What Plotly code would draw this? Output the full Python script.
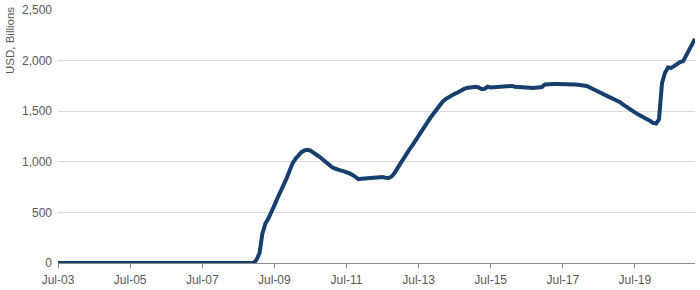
import plotly.graph_objects as go
import pandas as pd

# Monthly series, Jul-2003 .. Mar-2021 (USD billions)
start_month = "2003-07-01"
zeros_before_rise = [0] * 65  # Jul-03 .. Nov-08 flat at zero
values_from_dec08 = [
    0, 30, 100, 290, 390, 440, 500, 570, 640, 700,
    770, 835, 910, 985, 1030, 1065, 1095, 1112, 1118, 1110,
    1095, 1070, 1050, 1025, 990, 970, 950, 935, 922, 915,
    908, 900, 885, 870, 850, 828, 832, 835, 838, 842,
    848, 853, 853, 850, 843, 840, 855, 890, 940, 990,
    1040, 1090, 1125, 1165, 1215, 1255, 1300, 1350, 1395, 1440,
    1480, 1515, 1555, 1594, 1620, 1640, 1655, 1672, 1685, 1705,
    1718, 1730, 1736, 1742, 1742, 1735, 1718, 1722, 1742, 1735,
    1738, 1740, 1742, 1744, 1745, 1755, 1750, 1742, 1738, 1736,
    1735, 1734, 1732, 1730, 1732, 1736, 1738, 1765, 1769, 1768,
    1768, 1768, 1769, 1767, 1766, 1766, 1765, 1764, 1762, 1760,
    1758, 1750, 1735, 1722, 1708, 1695, 1680, 1662, 1648, 1632,
    1618, 1605, 1590, 1568, 1545, 1525, 1505, 1488, 1470, 1450,
    1432, 1420, 1405, 1385, 1378, 1420, 1780, 1880, 1932, 1928,
    1945, 1970, 1985, 1995, 2050, 2110, 2175, 2215,
]
values = zeros_before_rise + values_from_dec08
dates = pd.date_range(start_month, periods=len(values), freq="MS")

tick_dates = pd.date_range("2003-07-01", "2019-07-01", freq="24MS")
tick_labels = ["Jul-03", "Jul-05", "Jul-07", "Jul-09", "Jul-11", "Jul-13", "Jul-15", "Jul-17", "Jul-19"]
y_ticks = [0, 500, 1000, 1500, 2000, 2500]
y_labels = ["0", "500", "1,000", "1,500", "2,000", "2,500"]

font_family = "Liberation Sans, Arial, sans-serif"
label_color = "#595959"

fig = go.Figure()
fig.add_trace(go.Scatter(
    x=dates, y=values, mode="lines",
    line=dict(color="#173F6D", width=4),
    hoverinfo="skip", showlegend=False,
))

fig.update_layout(
    width=700, height=290,
    margin=dict(l=58, r=5, t=10, b=27, autoexpand=False),
    paper_bgcolor="white", plot_bgcolor="white",
    font=dict(family=font_family, size=12, color=label_color),
    xaxis=dict(
        range=[dates[0], dates[-1]],
        tickvals=tick_dates, ticktext=tick_labels,
        showgrid=False, zeroline=False,
        showline=True, linecolor="#8c8c8c", linewidth=1,
        ticks="outside", ticklen=4, tickcolor="#8c8c8c", tickwidth=1,
        ticklabelstandoff=2, automargin=False,
        tickfont=dict(size=12, color=label_color),
    ),
    yaxis=dict(
        range=[0, 2500],
        tickvals=y_ticks, ticktext=y_labels,
        showgrid=True, gridcolor="#d9d9d9", gridwidth=1,
        zeroline=False, showline=False,
        ticks="", ticklabelstandoff=5, automargin=False,
        tickfont=dict(size=12, color=label_color),
    ),
    annotations=[dict(
        text="USD, Billions", textangle=-90,
        xref="paper", yref="paper", x=0, y=0.8775,
        xshift=-48, xanchor="center", yanchor="middle",
        showarrow=False, font=dict(size=11.5, color=label_color),
    )],
)

fig.write_html("out.html")
